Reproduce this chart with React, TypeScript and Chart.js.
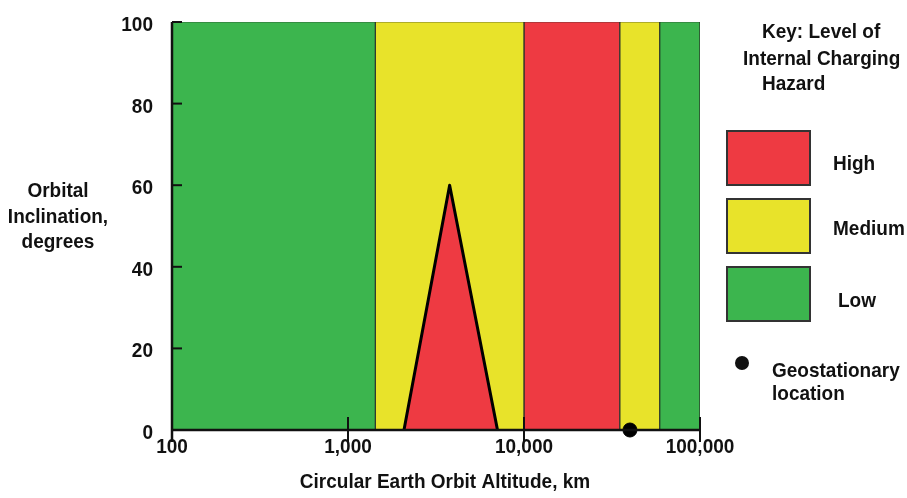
import React, { useEffect, useRef } from "react";
import { Chart, registerables } from "chart.js";

Chart.register(...registerables);

// ---- data ----
const bandEdges = [100, 1430, 10000, 35000, 59000, 100000];
const bandHazard = ["Low", "Medium", "High", "Medium", "Low"];
const triangleAltitude = [2080, 3780, 7070];
const triangleInclination = [0, 60, 0];
const geoAltitude = [40000];
const geoInclination = [0];
const xTicks = [100, 1000, 10000, 100000];
const xTickLabels = ["100", "1,000", "10,000", "100,000"];
const yTicks = [0, 20, 40, 60, 80, 100];
const legendLevels = ["High", "Medium", "Low"];
const keyTitle = ["Key: Level of", "Internal Charging", "Hazard"];
const yTitle = ["Orbital", "Inclination,", "degrees"];
const xTitle = "Circular Earth Orbit Altitude, km";
const geoLabel = ["Geostationary", "location"];

const hazardColors: Record<string, string> = {
  High: "#ee3a42",
  Medium: "#e8e32a",
  Low: "#3cb54e",
};

const FONT = 'bold 19px "Liberation Sans", Arial, sans-serif';

function tallText(ctx: CanvasRenderingContext2D, t: string, x: number, y: number) {
  ctx.save();
  ctx.translate(x, y);
  ctx.scale(1, 1.09);
  ctx.fillText(t, 0, 0);
  ctx.restore();
}

export default function App() {
  const ref = useRef<HTMLCanvasElement | null>(null);

  useEffect(() => {
    if (!ref.current) return;

    const bandDatasets = bandHazard.map((lvl, i) => ({
      type: "line" as const,
      label: lvl,
      data: [
        { x: bandEdges[i], y: 0 },
        { x: bandEdges[i], y: 100 },
        { x: bandEdges[i + 1], y: 100 },
        { x: bandEdges[i + 1], y: 0 },
      ],
      borderColor: "rgba(40,50,40,0.6)",
      borderWidth: 1,
      backgroundColor: hazardColors[lvl],
      fill: "origin",
      pointRadius: 0,
      tension: 0,
      order: 3,
    }));

    const triangle = {
      type: "line" as const,
      label: "High (triangle)",
      data: triangleAltitude.map((x, i) => ({ x, y: triangleInclination[i] })),
      borderColor: "#000",
      borderWidth: 3,
      backgroundColor: hazardColors.High,
      fill: "origin",
      pointRadius: 0,
      tension: 0,
      order: 2,
      borderJoinStyle: "round" as const,
    };

    const geo = {
      type: "scatter" as const,
      label: "Geostationary",
      data: geoAltitude.map((x, i) => ({ x, y: geoInclination[i] })),
      backgroundColor: "#000",
      borderColor: "#000",
      pointRadius: 7,
      clip: false as any,
      order: 1,
    };

    const decor = {
      id: "decor",
      afterDraw(chart: any) {
        const ctx = chart.ctx as CanvasRenderingContext2D;
        const xs = chart.scales.x;
        const ys = chart.scales.y;
        const area = chart.chartArea;
        ctx.save();
        ctx.fillStyle = "#111";
        ctx.strokeStyle = "#111";
        ctx.font = FONT;

        // axes
        ctx.lineWidth = 2.5;
        ctx.beginPath();
        ctx.moveTo(area.left, area.top);
        ctx.lineTo(area.left, area.bottom + 12);
        ctx.moveTo(area.left, area.bottom);
        ctx.lineTo(area.right, area.bottom);
        ctx.stroke();

        // y ticks
        ctx.lineWidth = 2;
        ctx.textAlign = "right";
        ctx.textBaseline = "alphabetic";
        yTicks.forEach((v) => {
          const py = ys.getPixelForValue(v);
          ctx.beginPath();
          ctx.moveTo(area.left, py);
          ctx.lineTo(area.left + 10, py);
          ctx.stroke();
          tallText(ctx, String(v), 153, py + 9);
        });

        // x ticks
        ctx.textAlign = "center";
        xTicks.forEach((v, i) => {
          const px = xs.getPixelForValue(v);
          ctx.beginPath();
          ctx.moveTo(px, area.bottom - 13);
          ctx.lineTo(px, area.bottom + 12);
          ctx.stroke();
          tallText(ctx, xTickLabels[i], px, 453);
        });

        // x title
        tallText(ctx, xTitle, 445, 488);

        // y title
        const yBase = [197, 223, 248];
        yTitle.forEach((t, i) => tallText(ctx, t, 58, yBase[i]));

        // key title
        ctx.textAlign = "left";
        const keyX = [762, 743, 762];
        const keyY = [38, 65, 90];
        keyTitle.forEach((t, i) => tallText(ctx, t, keyX[i], keyY[i]));

        // legend boxes
        const boxTop = [131, 199, 267];
        const labX = [833, 833, 838];
        const labY = [170, 235, 307];
        legendLevels.forEach((lvl, i) => {
          ctx.fillStyle = hazardColors[lvl];
          ctx.fillRect(727, boxTop[i], 83, 54);
          ctx.lineWidth = 2;
          ctx.strokeStyle = "#333";
          ctx.strokeRect(727, boxTop[i], 83, 54);
          ctx.fillStyle = "#111";
          tallText(ctx, lvl, labX[i], labY[i]);
        });

        // geostationary key
        ctx.beginPath();
        ctx.arc(742, 363, 7, 0, Math.PI * 2);
        ctx.fill();
        tallText(ctx, geoLabel[0], 772, 377);
        tallText(ctx, geoLabel[1], 772, 400);

        ctx.restore();
      },
    };

    const chart = new Chart(ref.current, {
      type: "line",
      data: { datasets: [geo as any, triangle as any, ...(bandDatasets as any)] },
      options: {
        animation: false,
        responsive: false,
        maintainAspectRatio: false,
        layout: { padding: { left: 172, right: 207, top: 22, bottom: 68 } },
        plugins: { legend: { display: false }, tooltip: { enabled: false } },
        scales: {
          x: { type: "logarithmic", min: 100, max: 100000, display: false },
          y: { type: "linear", min: 0, max: 100, display: false },
        },
      },
      plugins: [decor],
    });
    return () => chart.destroy();
  }, []);

  return (
    <div style={{ position: "fixed", left: 0, top: 0, width: 907, height: 498, background: "#fff" }}>
      <canvas ref={ref} width={907} height={498} style={{ display: "block" }} />
    </div>
  );
}
